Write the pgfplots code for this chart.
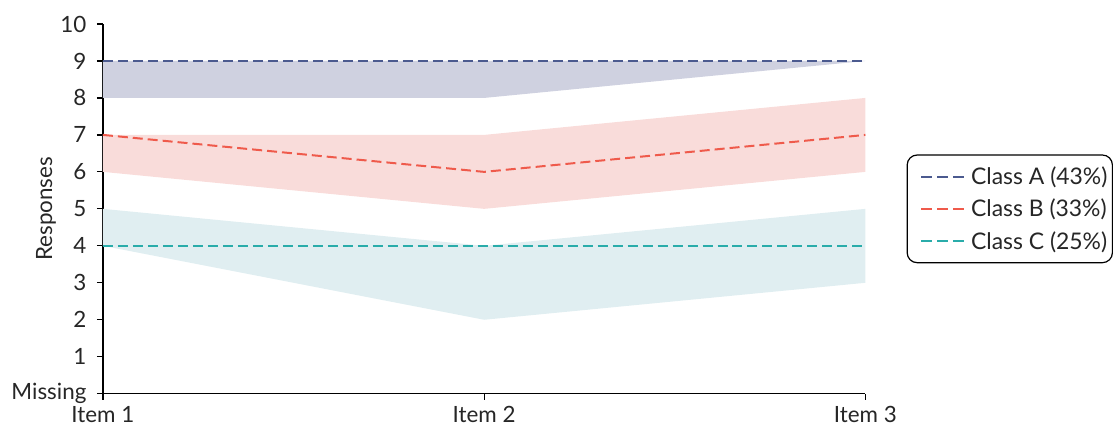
\documentclass[border=0pt]{standalone}
\usepackage{pgfplots}
\pgfplotsset{compat=1.18}
\usepackage{fontspec}
\setmainfont{Lato}
\definecolor{cAline}{HTML}{4B5A8F}
\definecolor{cAfill}{HTML}{CFD1E0}
\definecolor{cBline}{HTML}{EF5A4B}
\definecolor{cBfill}{HTML}{F9DCDA}
\definecolor{cCline}{HTML}{2AACAA}
\definecolor{cCfill}{HTML}{E0EEF1}
\begin{document}
\begin{tikzpicture}
\begin{axis}[
  width=763bp, height=370bp, scale only axis,
  xmin=1, xmax=3, ymin=0, ymax=10,
  axis x line*=bottom, axis y line*=left,
  xtick={1,2,3}, xticklabels={Item 1,Item 2,Item 3},
  ytick={0,1,2,3,4,5,6,7,8,9,10},
  yticklabels={Missing,1,2,3,4,5,6,7,8,9,10},
  tick align=outside, major tick length=6bp,
  tick style={black, line width=1.2bp},
  axis line style={black, line width=1.2bp},
  /pgf/number format/assume math mode=true,
  tick label style={font=\fontsize{22.5}{26}\selectfont, text=black!85},
  xticklabel style={yshift=-3bp},
  yticklabel style={xshift=-7bp},
  ylabel={Responses},
  label style={font=\fontsize{22.5}{26}\selectfont, text=black!85},
  ylabel style={at={(axis description cs:-0.057,0.5)}, anchor=south},
  legend style={at={(1.054,0.5)}, anchor=west, draw=black, line width=1.2bp,
    rounded corners=10bp, font=\fontsize{23}{27}\selectfont, text=black!85,
    row sep=9bp, inner xsep=3bp, inner ysep=10bp,
    nodes={inner xsep=2bp}},
  legend cell align=left,
  legend image code/.code={\path (-10bp,0bp); \draw[#1, dash pattern=on 11bp off 5bp] (0bp,0bp) -- (43bp,0bp); \path (47bp,0bp);},
  clip=false,
]
% bands
\addplot[draw=none, fill=cAfill, forget plot] coordinates {(1,8) (2,8) (3,9) (3,9) (2,9) (1,9)} -- cycle;
\addplot[draw=none, fill=cBfill, forget plot] coordinates {(1,6) (2,5) (3,6) (3,8) (2,7) (1,7)} -- cycle;
\addplot[draw=none, fill=cCfill, forget plot] coordinates {(1,4) (2,2) (3,3) (3,5) (2,4) (1,5)} -- cycle;
% lines
\addplot[cAline, line width=2bp, dash pattern=on 10bp off 5bp] coordinates {(1,9) (2,9) (3,9)};
\addlegendentry{Class A (43\%)}
\addplot[cBline, line width=2bp, dash pattern=on 10bp off 5bp] coordinates {(1,7) (2,6) (3,7)};
\addlegendentry{Class B (33\%)}
\addplot[cCline, line width=2bp, dash pattern=on 10bp off 5bp] coordinates {(1,4) (2,4) (3,4)};
\addlegendentry{Class C (25\%)}
\end{axis}
\path (current axis.south west) ++(-103bp,-37bp) rectangle ++(1113bp,431bp);
\end{tikzpicture}
\end{document}
